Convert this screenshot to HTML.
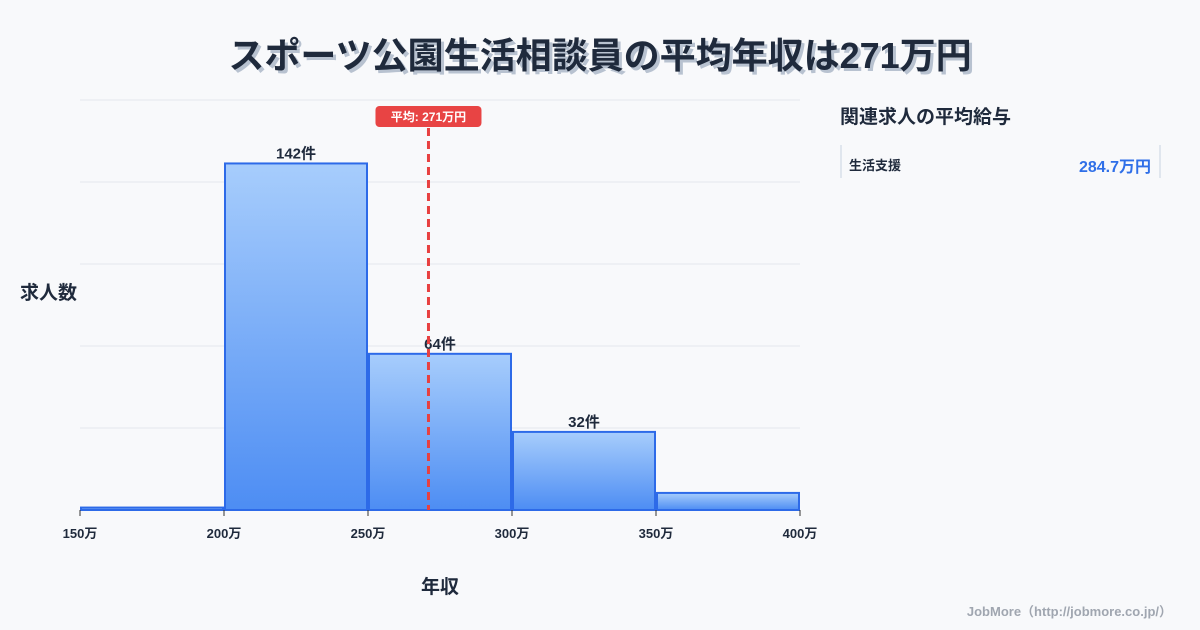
<!DOCTYPE html>
<html><head><meta charset="utf-8"><style>
body{margin:0;background:#f8f9fb;font-family:"Liberation Sans","Noto Sans CJK JP",sans-serif;}
#wrap{position:relative;width:1200px;height:630px;overflow:hidden;background:#f8f9fb}
</style></head><body>
<div id="wrap">
<svg id="c" width="1200" height="630">
<defs><linearGradient id="g" x1="0" y1="0" x2="0" y2="1"><stop offset="0" stop-color="#a7cdfc"/><stop offset="1" stop-color="#4d8df3"/></linearGradient></defs>
<text x="600" y="68" text-anchor="middle" font-size="36" font-weight="bold" fill="#b8c2d0" transform="translate(3,3)">スポーツ公園生活相談員の平均年収は271万円</text>
<text x="600" y="68" text-anchor="middle" font-size="36" font-weight="bold" fill="#1f2a3c">スポーツ公園生活相談員の平均年収は271万円</text>
<g id="grid"></g><g id="bars"></g><g id="axis"></g>
<text x="20" y="299" font-size="19" font-weight="bold" fill="#1f2a3c">求人数</text>
<text x="440" y="593" text-anchor="middle" font-size="19" font-weight="bold" fill="#1f2a3c">年収</text>
<text x="840" y="123" font-size="19" font-weight="bold" fill="#1f2a3c">関連求人の平均給与</text>
<line x1="841" y1="145" x2="841" y2="178" stroke="#c8d2e0"/>
<line x1="1160" y1="145" x2="1160" y2="178" stroke="#c8d2e0"/>
<text x="849" y="170" font-size="13" font-weight="bold" fill="#1f2a3c">生活支援</text>
<text x="1151" y="172" text-anchor="end" font-size="16" font-weight="bold" fill="#2f6fe8">284.7万円</text>
<text x="1172" y="616" text-anchor="end" font-size="13" font-weight="bold" fill="#a0a6b0">JobMore（http://jobmore.co.jp/）</text>
</svg></div>
<script>
const binStarts=[150,200,250,300,350];
const binCounts=[1,142,64,32,7];
const showLabels=[false,true,true,true,false];
const xTicks=[150,200,250,300,350,400];
const yGrid=[0,33.6,67.2,100.8,134.4,168];
const avgSalary=271;
const binWidth=50,yMax=168;
const X=v=>80+(v-150)*720/250, Y=v=>510-v*410/yMax;
const NS="http://www.w3.org/2000/svg";
function mk(t,a,p){const e=document.createElementNS(NS,t);for(const k in a)e.setAttribute(k,a[k]);p.appendChild(e);return e;}
const grid=document.getElementById('grid'),bars=document.getElementById('bars'),axis=document.getElementById('axis');
yGrid.forEach(v=>{const l=mk('line',{x1:80,x2:800,y1:Y(v),y2:Y(v),stroke:'#e3e7ec'},grid);

});
binStarts.forEach((s,i)=>{const x0=X(s)+1,x1=X(s+binWidth)-1,y=Y(binCounts[i]);
const r=mk('rect',{x:x0,y:y,width:x1-x0,height:510-y,fill:'url(#g)',stroke:'#2d6ae8','stroke-width':2},bars);


if(showLabels[i]){const t=mk('text',{x:(x0+x1)/2,y:y-5,'text-anchor':'middle','font-size':15,'font-weight':'bold',fill:'#1f2a3c'},bars);t.textContent=binCounts[i]+'件';

}});
xTicks.forEach(v=>{const l=mk('line',{x1:X(v),x2:X(v),y1:510,y2:516,stroke:'#333'},axis);


const t=mk('text',{x:X(v),y:538,'text-anchor':'middle','font-size':13,'font-weight':'bold',fill:'#1f2a3c'},axis);t.textContent=v+'万';

});
const ax=X(avgSalary);
const al=mk('line',{x1:ax,x2:ax,y1:128,y2:510,stroke:'#e84040','stroke-width':3,'stroke-dasharray':'8,5'},axis);


const ab=mk('rect',{x:ax-53,y:106,width:106,height:21,rx:4,fill:'#e84444'},axis);


const at=mk('text',{x:ax,y:121,'text-anchor':'middle','font-size':12,'font-weight':'bold',fill:'#fff'},axis);at.textContent='平均: '+avgSalary+'万円';


</script>
</body></html>
